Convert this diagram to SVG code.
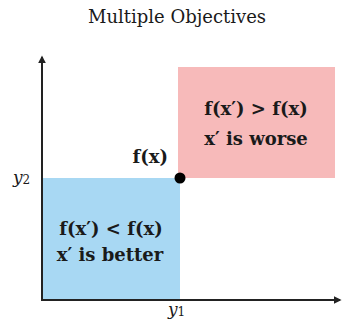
<svg xmlns="http://www.w3.org/2000/svg" width="342" height="322" viewBox="0 0 342 322">
<style>
text{font-family:"DejaVu Serif","Liberation Serif",serif;fill:#1a1a1a}
.t{font-size:18px}
.b{font-size:18px;font-weight:bold;text-anchor:middle}
.lbl{font-size:18px;font-weight:bold}
.ax{font-size:17px;font-style:italic}
.axis{stroke:#222;stroke-width:2;fill:none}
</style>
<defs>
<marker id="arr" viewBox="0 0 10 10" refX="8" refY="5" markerWidth="4" markerHeight="4" orient="auto" markerUnits="strokeWidth">
<path d="M0,0 L10,5 L0,10 z" fill="#222"/>
</marker>
</defs>
<rect width="342" height="322" fill="#fff"/>
<text class="t" x="177" y="23" text-anchor="middle">Multiple Objectives</text>
<g id="worse">
<rect x="178" y="67" width="157" height="111" fill="#f7baba"/>
<text class="b" x="256" y="115">f(x′) &gt; f(x)</text>
<text class="b" x="256" y="145">x′ is worse</text>
</g>
<g id="better">
<rect x="42" y="178" width="138" height="121" fill="#a8d8f3"/>
<text class="b" x="111" y="235">f(x′) &lt; f(x)</text>
<text class="b" x="110" y="261">x′ is better</text>
</g>
<g id="connectors">
<line class="axis" x1="42" y1="300" x2="42" y2="57" marker-end="url(#arr)"/>
<line class="axis" x1="41" y1="300" x2="340" y2="300" marker-end="url(#arr)"/>
</g>
<g id="point">
<circle cx="180" cy="178" r="5.5" fill="#000"/>
<text class="lbl" x="168" y="163" text-anchor="end">f(x)</text>
</g>
<text class="ax" x="13" y="183">y<tspan font-size="12" font-style="normal" dy="1">2</tspan></text>
<text class="ax" x="168" y="315">y<tspan font-size="12" font-style="normal" dy="1">1</tspan></text>
</svg>
